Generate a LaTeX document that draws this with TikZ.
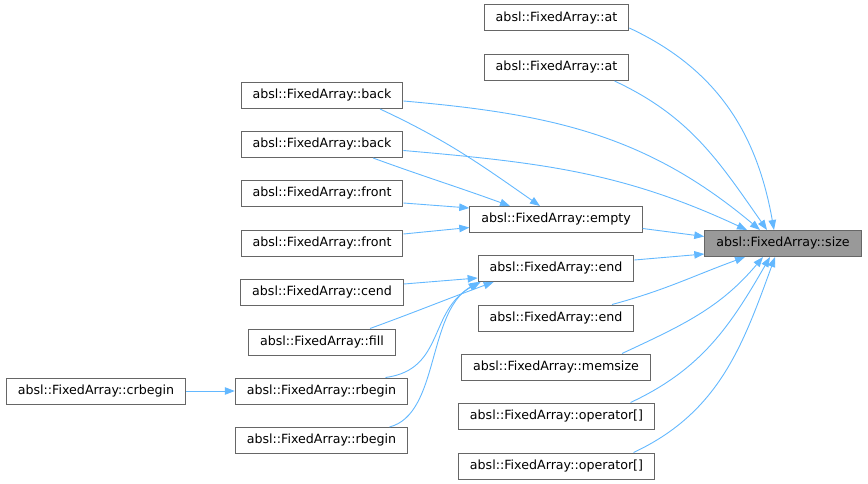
\documentclass[tikz,border=0pt]{standalone}
\usepackage{fontspec}
\setmainfont{DejaVu Sans}
\usepackage{xcolor}
\usetikzlibrary{arrows.meta}
\definecolor{edgeblue}{HTML}{63B8FF}
\definecolor{boxgray}{HTML}{666666}
\definecolor{mainfill}{HTML}{999999}

\begin{document}
\begin{tikzpicture}[x=1pt, y=-1pt]
        \tikzset{fn/.style={draw=boxgray, line width=1pt, fill=white, minimum height=26pt, inner xsep=11.5pt, inner ysep=0pt, font=\fontsize{12.65}{15}\selectfont}}
        \tikzset{mainfn/.style={fn, fill=mainfill}}
        \tikzset{call/.style={draw=edgeblue, line width=0.9pt, -{Triangle[length=10pt, width=7.5pt]}}}

        \useasboundingbox (0,0) rectangle (868,484);

        \node[mainfn] (size) at (783, 243.5) {absl::FixedArray::size};

        \node[fn] (at1) at (556.5, 18) {absl::FixedArray::at};
        \node[fn] (at2) at (556.5, 67.5) {absl::FixedArray::at};
        \node[fn] (empty) at (556, 219.5) {absl::FixedArray::empty};
        \node[fn] (end1) at (556, 268.5) {absl::FixedArray::end};
        \node[fn] (end2) at (556, 318) {absl::FixedArray::end};
        \node[fn] (memsize) at (556, 367) {absl::FixedArray::memsize};
        \node[fn] (op1) at (556.5, 416) {absl::FixedArray::operator[]};
        \node[fn] (op2) at (556.5, 466) {absl::FixedArray::operator[]};

        \node[fn] (back1) at (322, 95.5) {absl::FixedArray::back};
        \node[fn] (back2) at (322, 144.5) {absl::FixedArray::back};
        \node[fn] (front1) at (322, 193.5) {absl::FixedArray::front};
        \node[fn] (front2) at (322, 243) {absl::FixedArray::front};
        \node[fn] (cend) at (322, 292) {absl::FixedArray::cend};
        \node[fn] (fill) at (322, 342) {absl::FixedArray::fill};
        \node[fn] (rbegin1) at (321.5, 391) {absl::FixedArray::rbegin};
        \node[fn] (rbegin2) at (321.5, 440.5) {absl::FixedArray::rbegin};

        \node[fn] (crbegin) at (96, 391) {absl::FixedArray::crbegin};

        \draw[call] ([yshift=-10pt]at1.east) to[out=-25, in=100] ([xshift=-9pt]size.north);
        \draw[call] ([xshift=58pt]at2.south) to[out=-25, in=125] ([xshift=-16pt]size.north);
        \draw[call] ([yshift=-5.5pt]back1.east) to[out=-5, in=140] ([xshift=-23pt]size.north);
        \draw[call] ([yshift=-6pt]back2.east) to[out=-5, in=155] ([xshift=-36pt]size.north);
        \draw[call] ([yshift=-9pt]empty.east) -- ([yshift=7pt]size.west);
        \draw[call] ([yshift=8.5pt]end1.east) -- ([yshift=-10.5pt]size.west);
        \draw[call] ([xshift=56pt]end2.north) to[out=15, in=200] ([xshift=-38pt]size.south);
        \draw[call] ([xshift=66pt]memsize.north) to[out=25, in=230] ([xshift=-20pt]size.south);
        \draw[call] ([xshift=74pt]op1.north) to[out=25, in=240] ([xshift=-13pt]size.south);
        \draw[call] ([xshift=77pt]op2.north) to[out=25, in=250] ([xshift=-8pt]size.south);

        \draw[call] ([xshift=58pt]back1.south) to[out=-25, in=145] ([xshift=-16pt]empty.north);
        \draw[call] ([xshift=51pt]back2.south) to[out=-20, in=160] ([xshift=-46pt]empty.north);
        \draw[call] ([yshift=-9.5pt]front1.east) -- ([yshift=11.5pt]empty.west);
        \draw[call] ([yshift=9pt]front2.east) -- ([yshift=-8pt]empty.west);

        \draw[call] ([yshift=8pt]cend.east) -- ([yshift=-9.5pt]end1.west);
        \draw[call] ([xshift=48pt]fill.north) to[out=20, in=200] ([xshift=16pt]end1.south west);
        \draw[call] ([xshift=64pt]rbegin1.north) .. controls +(60,-8) and +(-53,28) .. ([xshift=3pt]end1.south west);
        \draw[call] ([xshift=68pt]rbegin2.north) .. controls +(50,-13) and +(-52,31) .. ([xshift=1pt]end1.south west);

        \draw[call] (crbegin) -- (rbegin1);

    \end{tikzpicture}
\end{document}
